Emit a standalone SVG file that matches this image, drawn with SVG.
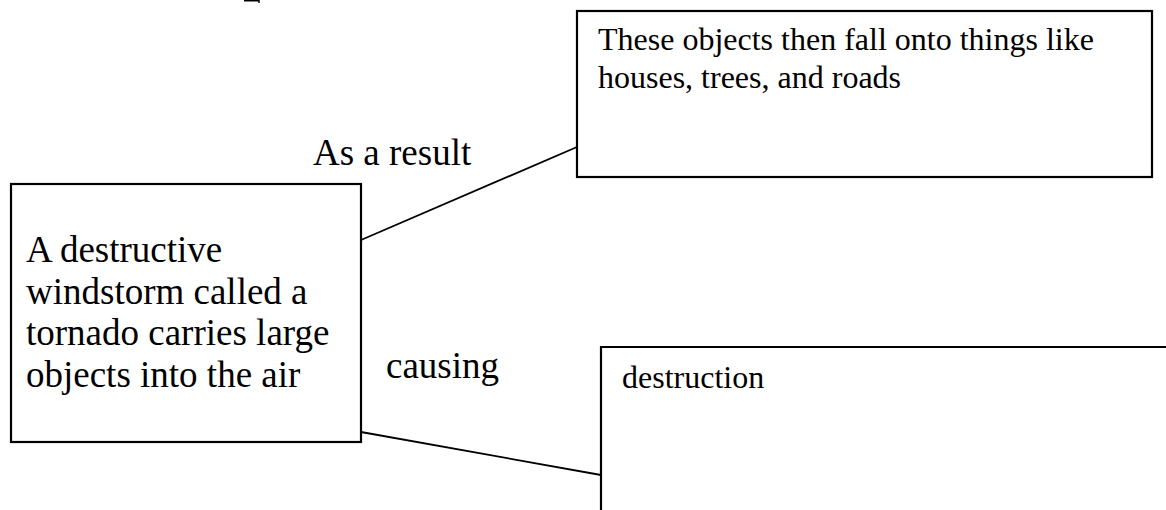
<svg xmlns="http://www.w3.org/2000/svg" width="1166" height="510" viewBox="0 0 1166 510">
<style>
.box{fill:#fff;stroke:#000;stroke-width:2.2}
.conn{stroke:#000;stroke-width:1.8;fill:none}
.big{font-family:"Liberation Serif","Times New Roman",serif;font-size:37px;fill:#000}
.small{font-family:"Liberation Serif","Times New Roman",serif;font-size:32px;fill:#000}
</style>
<rect width="1166" height="510" fill="#fff"/>
<path d="M244 0.7H259V3" stroke="#000" stroke-width="1.4" fill="none"/>
<g id="connectors">
<line class="conn" x1="361" y1="240" x2="577" y2="147"/>
<line class="conn" x1="361" y1="432" x2="601" y2="475"/>
</g>
<g id="labels">
<text class="big" x="313" y="165">As a result</text>
<text class="big" x="386" y="378">causing</text>
</g>
<g id="node-tornado">
<rect class="box" x="11" y="184" width="350" height="258"/>
<text class="big" x="26"><tspan x="26" y="262">A destructive</tspan><tspan x="26" y="303.5">windstorm called a</tspan><tspan x="26" y="345">tornado carries large</tspan><tspan x="26" y="386.5">objects into the air</tspan></text>
</g>
<g id="node-fall">
<rect class="box" x="577" y="11" width="575" height="166"/>
<text class="small"><tspan x="598" y="50">These objects then fall onto things like</tspan><tspan x="598" y="88">houses, trees, and roads</tspan></text>
</g>
<g id="node-destruction">
<path class="box" d="M1170 347H601V515"/>
<text class="small" x="622" y="388">destruction</text>
</g>
</svg>
